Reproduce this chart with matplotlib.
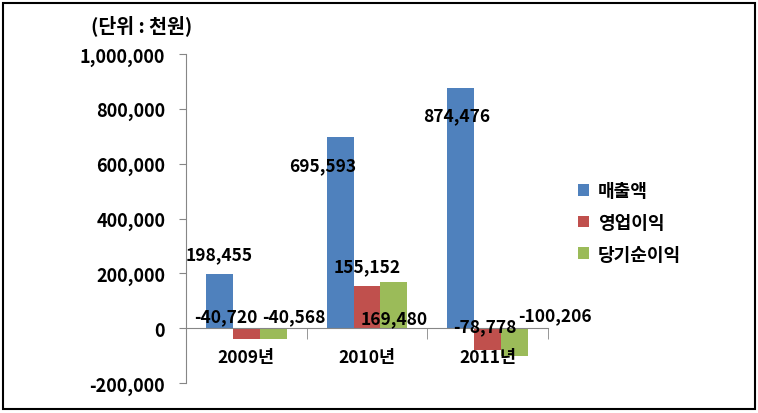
import matplotlib.pyplot as plt
import numpy as np
from matplotlib.patches import Rectangle

plt.rcParams['font.family'] = ['Noto Sans CJK KR', 'DejaVu Sans']
plt.rcParams['font.weight'] = 'bold'

# data (단위: 천원)
years = ['2009년', '2010년', '2011년']
series = ['매출액', '영업이익', '당기순이익']
sales = [198455, 695593, 874476]
op_income = [-40720, 155152, -78778]
net_income = [-40568, 169480, -100206]
colors = ['#4F81BD', '#C0504D', '#9BBB59']

# label offsets in pixels (dx, dy) per series / year, to mimic the original placement
offsets = [
    [(0, 20), (-17, -28), (-4, -27)],
    [(-21, 23), (0, 19), (-3, 24)],
    [(21, 23), (0, -37), (40, 40)],
]

fig = plt.figure(figsize=(7.58, 4.14), dpi=100)
ax = fig.add_axes([186 / 758, 1 - 384 / 414, (548 - 186) / 758, (384 - 55) / 414])

x = np.arange(len(years))
w = 0.223
for i, (name, vals) in enumerate(zip(series, [sales, op_income, net_income])):
    bars = ax.bar(x + (i - 1) * w, vals, w, color=colors[i], label=name, zorder=1)
    for j, (b, v) in enumerate(zip(bars, vals)):
        dx, dy = offsets[i][j]
        ax.annotate(f'{v:,}', (b.get_x() + b.get_width() / 2, v),
                    xytext=(dx, dy), textcoords='offset pixels',
                    ha='center', va='center', fontsize=12.5, fontweight='bold', zorder=4)

ax.set_xlim(-0.5, 2.5)
ax.set_ylim(-200000, 1000000)
ax.set_yticks(np.arange(-200000, 1000001, 200000))
ax.set_yticklabels([f'{t:,}' for t in range(-200000, 1000001, 200000)], fontsize=13)
ax.tick_params(axis='y', length=5, color='#868686', pad=10)

ax.spines['bottom'].set_position(('data', 0))
ax.spines['top'].set_visible(False)
ax.spines['right'].set_visible(False)
for s in ['left', 'bottom']:
    ax.spines[s].set_color('#868686')
    ax.spines[s].set_zorder(3)
ax.set_xticks(x)
ax.set_xticklabels(years, fontsize=12.5)
ax.set_xticks([-0.5, 0.5, 1.5, 2.5], minor=True)
ax.tick_params(axis='x', which='major', length=0, pad=14)
ax.tick_params(axis='x', which='minor', length=8, color='#868686')
ax.xaxis.set_zorder(3)

fig.text(142 / 758, 1 - 26 / 414, '(단위 : 천원)', ha='center', va='center', fontsize=14, fontweight='bold')

leg = fig.legend(loc='upper left', bbox_to_anchor=(562 / 758, 1 - 166 / 414), frameon=False,
                 fontsize=13, handlelength=0.6, handleheight=0.6, handletextpad=0.5,
                 labelspacing=0.7)

fig.add_artist(Rectangle((3 / 758, 4 / 414), 752 / 758, 406 / 414, transform=fig.transFigure,
                         fill=False, edgecolor='black', linewidth=1.5))

fig.savefig('out.png', dpi=100)
